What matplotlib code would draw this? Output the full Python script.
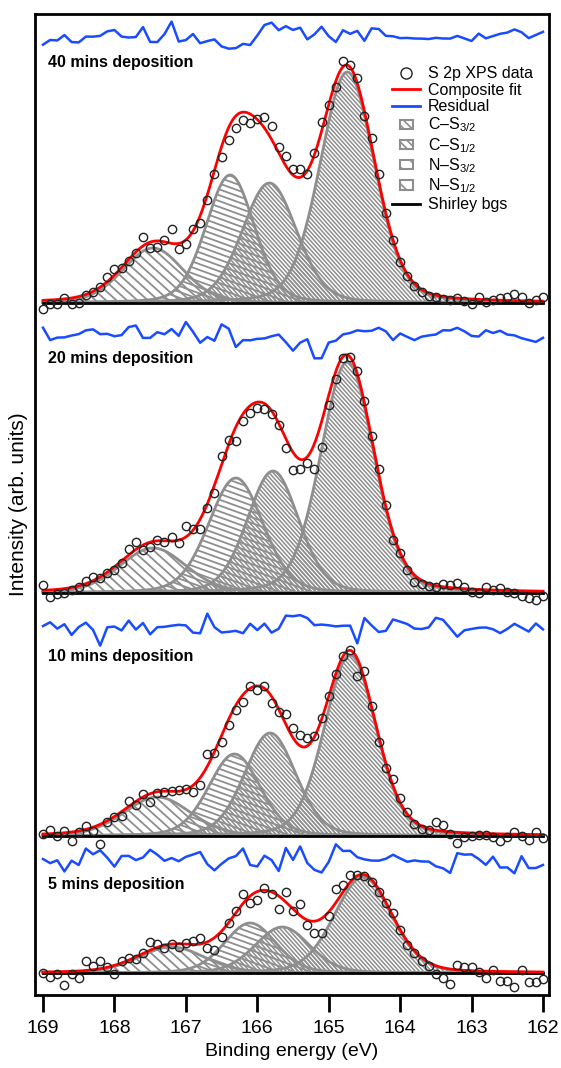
import numpy as np
import matplotlib
matplotlib.use("Agg")
import matplotlib.pyplot as plt
from matplotlib.collections import LineCollection
from matplotlib.patches import Polygon, Patch, Rectangle
from matplotlib.lines import Line2D
from matplotlib.legend_handler import HandlerPatch

plt.rcParams['font.family'] = ['Liberation Sans', 'DejaVu Sans']
plt.rcParams['mathtext.fontset'] = 'custom'
plt.rcParams['mathtext.rm'] = 'Liberation Sans'
plt.rcParams['mathtext.it'] = 'Liberation Sans:italic'
plt.rcParams['hatch.linewidth'] = 1.2
plt.rcParams['hatch.color'] = '#8c8c8c'

# binding energy grid of the measurements (eV)
energia = np.linspace(169.0, 162.0, 71)

etiquetas = ["40 mins deposition", "20 mins deposition",
             "10 mins deposition", "5 mins deposition"]

# S 2p intensities above the Shirley background, one list per deposition time
datos_40 = [-6, -1, -1, 5, -1, 0, 8, 11, 16, 26,
            34, 35, 42, 50, 66, 55, 56, 63, 74, 54,
            59, 74, 80, 103, 129, 146, 163, 175, 183, 180,
            184, 186, 177, 156, 147, 134, 134, 129, 150, 181,
            198, 216, 242, 238, 225, 187, 165, 129, 90, 63,
            41, 27, 17, 11, 7, 6, 4, 3, 5, 2,
            -1, 6, 1, 3, 5, 6, 9, 6, 0, 3, 6]
datos_20 = [8, -4, -1, 0, 3, 6, 12, 16, 15, 20,
            23, 30, 44, 51, 43, 46, 53, 51, 56, 50,
            67, 64, 64, 85, 100, 137, 153, 152, 172, 180,
            185, 184, 179, 168, 145, 123, 124, 130, 124, 146,
            188, 214, 235, 236, 222, 192, 157, 124, 88, 53,
            40, 23, 11, 9, 7, 6, 9, 8, 10, 6,
            1, 0, 6, 3, 5, 1, 0, -3, -5, -7, -3]
datos_10 = [2, 6, 0, 5, -5, 4, 10, 5, -8, 14,
            19, 20, 35, 31, 42, 34, 43, 44, 45, 46,
            47, 44, 51, 82, 83, 94, 111, 126, 134, 150,
            146, 150, 133, 124, 122, 108, 101, 98, 100, 118,
            140, 162, 180, 186, 160, 165, 130, 94, 68, 57,
            38, 24, 12, 7, 6, 14, 11, 2, -7, -1,
            0, 1, 1, -1, -5, -1, 4, 0, -4, 4, -2]
datos_5 = [0, -4, -1, -12, -1, -5, 12, 7, 12, 6,
           -1, 12, 15, 14, 20, 31, 29, 25, 29, 26,
           30, 32, 35, 25, 23, 36, 50, 62, 79, 70,
           73, 85, 79, 64, 81, 62, 69, 48, 40, 40,
           57, 84, 88, 98, 98, 97, 91, 81, 70, 60,
           43, 28, 20, 12, 7, -1, -5, -11, 8, 6,
           6, 1, -5, 3, -8, -8, -14, 3, -9, -9, -6]
datos = [datos_40, datos_20, datos_10, datos_5]

# fitted components: centre (eV), height, FWHM (eV) for C-S3/2, C-S1/2, N-S3/2, N-S1/2
centros = [[164.74, 165.83, 166.38, 167.46],
           [164.74, 165.78, 166.30, 167.46],
           [164.70, 165.82, 166.32, 167.40],
           [164.52, 165.65, 166.10, 167.20]]
alturas = [[231, 120, 128, 55],
           [231, 122, 115, 45],
           [181, 103, 82, 39],
           [96, 46, 50, 26]]
anchos = [[0.90, 0.90, 0.80, 1.00],
          [0.88, 0.85, 0.90, 1.10],
          [0.85, 0.85, 0.85, 1.10],
          [0.95, 0.90, 0.85, 1.10]]
frac_lorentz = 0.2

# vertical stacking of the spectra and residuals
desplaz = [692, 402, 159, 22]
desplaz_res = [959, 662, 369, 137]
pos_etiqueta = [932, 637, 338, 110]

GRIS = '#8e8e8e'
ROJO = '#ff0000'
AZUL = '#1a4cff'

# hatch style per component: angle (deg, lines falling to the right), spacing (px), width
tramas = [(48, 3.0, 1.1), (48, 3.0, 1.1), (20, 5.5, 1.3), (42, 7.0, 1.3)]


def pseudo_voigt(x, c, h, w, eta=frac_lorentz):
    u = (x - c) / w
    return h * ((1 - eta) * np.exp(-4 * np.log(2) * u**2) + eta / (1 + 4 * u**2))


def rayado(ax, fig, xs, base, ys, angulo, paso, lw):
    """Dibuja un pico relleno con lineas paralelas recortadas a su contorno."""
    verts = np.column_stack([np.r_[xs, xs[::-1]],
                             np.r_[base + ys, np.full(len(xs), base)]])
    contorno = Polygon(verts, closed=True, facecolor='none', edgecolor='none',
                       transform=ax.transData)
    ax.add_patch(contorno)
    x0, y0, x1, y1 = ax.bbox.extents
    diag = np.hypot(x1 - x0, y1 - y0)
    th = np.radians(angulo)
    d = np.array([np.cos(th), -np.sin(th)])
    n = np.array([np.sin(th), np.cos(th)])
    c = np.array([(x0 + x1) / 2, (y0 + y1) / 2])
    segs = []
    for o in np.arange(-diag / 2, diag / 2, paso):
        p = c + o * n
        segs.append([(p - diag / 2 * d) / fig.dpi, (p + diag / 2 * d) / fig.dpi])
    lc = LineCollection(segs, colors=GRIS, linewidths=lw,
                        transform=fig.dpi_scale_trans, zorder=2)
    lc.set_clip_path(contorno)
    ax.add_collection(lc, autolim=False)
    ax.plot(xs, base + ys, color=GRIS, lw=2, zorder=3)


def caja_leyenda(legend, orig_handle, xdescent, ydescent, width, height, fontsize):
    return Rectangle((-xdescent + width * 0.27, -ydescent + height * 0.05),
                     width * 0.46, height * 0.9)


fig = plt.figure(figsize=(5.61, 10.68), dpi=100)
ax = fig.add_axes([35 / 561, 73 / 1068, 514 / 561, 981 / 1068])
ax.set_xlim(169.112, 161.916)
ax.set_ylim(0, 981)

xs = np.linspace(169.0, 162.0, 701)
for i in range(4):
    y = np.array(datos[i], dtype=float)
    base = desplaz[i]
    ajuste_fino = np.zeros_like(xs)
    ajuste = np.zeros_like(energia)
    for k in range(4):
        comp = pseudo_voigt(xs, centros[i][k], alturas[i][k], anchos[i][k])
        ajuste_fino += comp
        ajuste += pseudo_voigt(energia, centros[i][k], alturas[i][k], anchos[i][k])
        ang, paso, lw = tramas[k]
        rayado(ax, fig, xs, base, comp, ang, paso, lw)
    ax.plot([169.0, 162.0], [base, base], color='black', lw=2, zorder=4)
    ax.plot(xs, base + ajuste_fino, color=ROJO, lw=2, zorder=5)
    ax.plot(energia, base + y, 'o', mfc='none', mec='#222222', ms=6, mew=1.0, zorder=6)
    ax.plot(energia, desplaz_res[i] + (y - ajuste), color=AZUL, lw=1.8, zorder=5)
    ax.text(0.025, pos_etiqueta[i], etiquetas[i], transform=ax.get_yaxis_transform(),
            fontsize=11.5, fontweight='bold', va='center', ha='left')

# legend
manejadores = [
    Line2D([], [], ls='none', marker='o', mfc='none', mec='#222222', ms=8, mew=1.0),
    Line2D([], [], color=ROJO, lw=2),
    Line2D([], [], color=AZUL, lw=2),
    Patch(facecolor='white', edgecolor=GRIS, hatch='\\\\\\\\', lw=1.5),
    Patch(facecolor='white', edgecolor=GRIS, hatch='\\\\\\\\', lw=1.5),
    Patch(facecolor='white', edgecolor=GRIS, hatch='\\\\', lw=1.5),
    Patch(facecolor='white', edgecolor=GRIS, hatch='\\\\', lw=1.5),
    Line2D([], [], color='black', lw=2),
]
nombres = ["S 2p XPS data", "Composite fit", "Residual",
           "C–S$_{3/2}$", "C–S$_{1/2}$", "N–S$_{3/2}$", "N–S$_{1/2}$", "Shirley bgs"]
ax.legend(manejadores, nombres, loc='upper left', bbox_to_anchor=(0.695, 0.947),
          frameon=False, fontsize=11.5, handlelength=1.75, handleheight=0.6,
          labelspacing=0.1, handletextpad=0.5, borderaxespad=0, borderpad=0,
          handler_map={Patch: HandlerPatch(patch_func=caja_leyenda)})

for lado in ax.spines.values():
    lado.set_linewidth(2)
ax.set_yticks([])
ax.set_xticks(np.arange(169, 161, -1))
ax.tick_params(axis='x', direction='out', length=12, width=2, labelsize=14, pad=6)
ax.set_xlabel("Binding energy (eV)", fontsize=14)
ax.set_ylabel("Intensity (arb. units)", fontsize=15, labelpad=5)

fig.savefig("out.png", dpi=100)
